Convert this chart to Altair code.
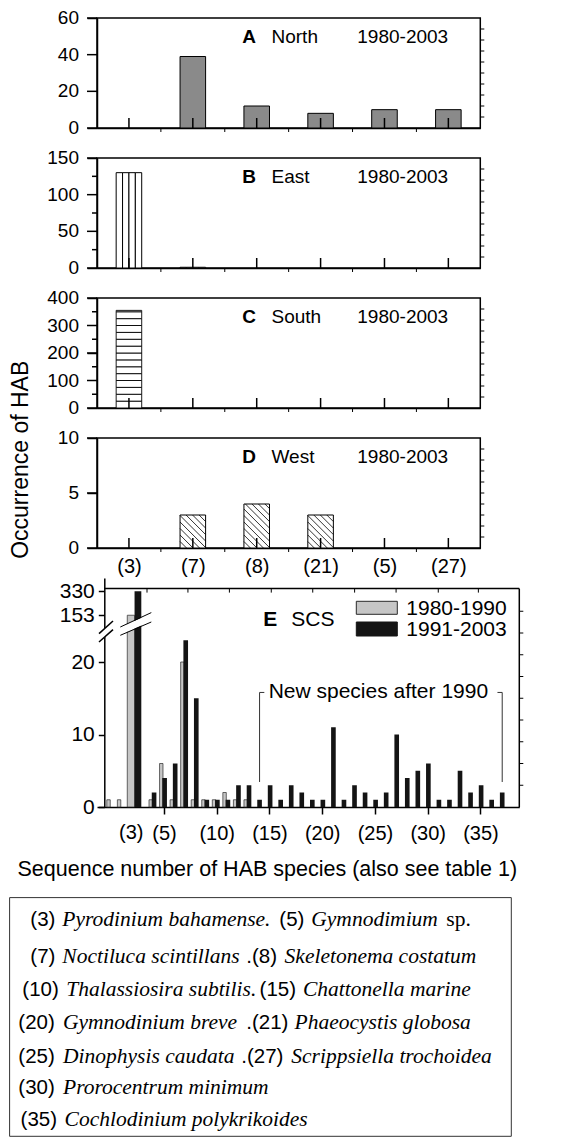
import json
import altair as alt
import pandas as pd

FONT = "Liberation Sans"
SERIF = "Liberation Serif"

# ---------------- data: regional panels A-D ----------------
categories = ["(3)", "(7)", "(8)", "(21)", "(5)", "(27)"]
north = [0, 39, 12, 8, 10, 10]
east = [130, 1, 0, 0, 0, 0]
south = [355, 0, 0, 0, 0, 0]
west = [0, 3, 4, 3, 0, 0]

# ---------------- data: panel E (SCS) ----------------
species_8090 = [0, 1, 3, 4, 5, 6, 7, 8, 9, 10, 11, 12, 13]
counts_8090 = [1, 1, 153, 1, 6, 1, 20, 1, 1, 1, 2, 1, 1]
species_9103 = list(range(3, 38))
counts_9103 = [330, 2, 4, 6, 23, 15, 1, 1, 1, 3, 3, 1, 3, 1, 3, 2, 1, 1, 11,
               1, 3, 2, 1, 2, 10, 4, 5, 6, 1, 1, 5, 2, 3, 1, 2]
e_tick_species = [5, 10, 15, 20, 25, 30, 35]
new_species_from = 14
new_species_to = 37

# ---------------- layout constants ----------------
W, H = 383.3, 110
PXX = W / 6.0
EW, EH = 422.3, 229
E_TOP = 10.6
E_YMAX = EH / 7.25
ONE = pd.DataFrame({"k": [0]})


def txt(x, y, s, size, font=FONT, style="normal", weight="normal",
        align="left", baseline="middle", angle=None):
    kw = dict(text=s, font=font, fontSize=size, fontStyle=style,
              fontWeight=weight, align=align, baseline=baseline, color="black")
    if angle is not None:
        kw["angle"] = angle
    return alt.Chart(ONE).mark_text(**kw).encode(x=alt.value(x), y=alt.value(y))


def seg(x1, y1, x2, y2, color="black", width=1.0):
    return alt.Chart(ONE).mark_rule(color=color, strokeWidth=width).encode(
        x=alt.value(x1), y=alt.value(y1), x2=alt.value(x2), y2=alt.value(y2))


def box(x1, y1, x2, y2, fill, stroke="black", sw=1.0):
    return alt.Chart(ONE).mark_rect(fill=fill, stroke=stroke, strokeWidth=sw).encode(
        x=alt.value(x1), x2=alt.value(x2), y=alt.value(y1), y2=alt.value(y2))


def region_panel(values, letter, name, kind, ymax, yticks, minor, right_step,
                 show_labels, extra=()):
    df = pd.DataFrame({"idx": list(range(len(categories))), "cat": categories, "value": values})
    xs = alt.Scale(domain=[-0.5, 5.5], nice=False, zero=False)
    ys = alt.Scale(domain=[0, ymax], nice=False, zero=False)
    if show_labels:
        xaxis = alt.Axis(values=list(range(6)), ticks=False, title=None, grid=False,
                         labelExpr=json.dumps(categories) + "[datum.value]",
                         labelFontSize=20, labelPadding=8, labelFont=FONT,
                         labelOverlap=False, labelFlush=False)
    else:
        xaxis = alt.Axis(values=list(range(6)), ticks=False, labels=False, title=None, grid=False)
    yaxis = alt.Axis(values=yticks, tickSize=10, labels=False, title=None, grid=False)

    layers = [alt.Chart(df).mark_point(opacity=0).encode(
        x=alt.X("idx:Q", scale=xs, axis=xaxis),
        y=alt.Y("value:Q", scale=ys, axis=yaxis))]

    # y tick labels
    ldf = pd.DataFrame({"v": yticks})
    layers.append(alt.Chart(ldf).mark_text(
        font=FONT, fontSize=19, align="right", baseline="middle", color="black").encode(
        x=alt.value(-18), y=alt.Y("v:Q", scale=ys), text="v:Q"))

    bars = df[df["value"] > 0]
    if kind == "solid":
        layers.append(alt.Chart(bars).transform_calculate(
            x0="datum.idx - 0.2", x1="datum.idx + 0.2").mark_rect(
            fill="#8a8a8a", stroke="black", strokeWidth=1).encode(
            x=alt.X("x0:Q", scale=xs), x2="x1:Q",
            y=alt.Y("value:Q", scale=ys), y2=alt.datum(0)))
    elif kind == "vstripes":
        rows = []
        for _, r in bars.iterrows():
            for j in range(4):
                rows.append({"x0": r.idx - 0.2 + 0.1 * j, "x1": r.idx - 0.1 + 0.1 * j, "value": r.value})
        layers.append(alt.Chart(pd.DataFrame(rows)).mark_rect(
            fill="white", stroke="black", strokeWidth=1).encode(
            x=alt.X("x0:Q", scale=xs), x2="x1:Q",
            y=alt.Y("value:Q", scale=ys), y2=alt.datum(0)))
    elif kind == "hstripes":
        rows = []
        for _, r in bars.iterrows():
            lo = 0
            while lo < r.value:
                rows.append({"x0": r.idx - 0.2, "x1": r.idx + 0.2, "y0": lo, "y1": min(lo + 25, r.value)})
                lo += 25
        layers.append(alt.Chart(pd.DataFrame(rows)).mark_rect(
            fill="white", stroke="black", strokeWidth=0.9).encode(
            x=alt.X("x0:Q", scale=xs), x2="x1:Q",
            y=alt.Y("y0:Q", scale=ys), y2="y1:Q"))
    elif kind == "hatch":
        pxy = H / ymax
        bw = 0.4 * PXX
        rows = []
        for _, r in bars.iterrows():
            hh = r.value * pxy
            b = 6.5
            while b < bw + hh:
                u1, u2 = max(0.0, b - hh), min(bw, b)
                rows.append({"hx0": r.idx - 0.2 + u1 / PXX, "hy0": (b - u1) / pxy,
                             "hx1": r.idx - 0.2 + u2 / PXX, "hy1": (b - u2) / pxy})
                b += 6.5
        layers.append(alt.Chart(bars).transform_calculate(
            x0="datum.idx - 0.2", x1="datum.idx + 0.2").mark_rect(
            fill="white").encode(
            x=alt.X("x0:Q", scale=xs), x2="x1:Q",
            y=alt.Y("value:Q", scale=ys), y2=alt.datum(0)))
        layers.append(alt.Chart(pd.DataFrame(rows)).mark_rule(
            color="black", strokeWidth=0.8).encode(
            x=alt.X("hx0:Q", scale=xs), x2="hx1:Q",
            y=alt.Y("hy0:Q", scale=ys), y2="hy1:Q"))
        layers.append(alt.Chart(bars).transform_calculate(
            x0="datum.idx - 0.2", x1="datum.idx + 0.2").mark_rect(
            fill="transparent", stroke="black", strokeWidth=1).encode(
            x=alt.X("x0:Q", scale=xs), x2="x1:Q",
            y=alt.Y("value:Q", scale=ys), y2=alt.datum(0)))

    # inward ticks at category centres
    layers.append(alt.Chart(df).mark_rule(color="black", strokeWidth=1.5).encode(
        x=alt.X("idx:Q", scale=xs), y=alt.value(H), y2=alt.value(H - 10)))
    # small ticks at category boundaries
    bdf = pd.DataFrame({"b": [i + 0.5 for i in range(5)]})
    layers.append(alt.Chart(bdf).mark_rule(color="black", strokeWidth=1).encode(
        x=alt.X("b:Q", scale=xs), y=alt.value(H), y2=alt.value(H + 4)))
    # left major ticks (explicit, so none are dropped)
    layers.append(alt.Chart(ldf).mark_rule(color="black", strokeWidth=1.5).encode(
        y=alt.Y("v:Q", scale=ys), x=alt.value(-10), x2=alt.value(0)))
    # right-side minor ticks
    rdf = pd.DataFrame({"v": list(range(right_step, ymax, right_step))})
    layers.append(alt.Chart(rdf).mark_rule(color="black", strokeWidth=1).encode(
        y=alt.Y("v:Q", scale=ys), x=alt.value(W), x2=alt.value(W + 4)))
    if minor:
        mdf = pd.DataFrame({"v": minor})
        layers.append(alt.Chart(mdf).mark_rule(color="black", strokeWidth=1.5).encode(
            y=alt.Y("v:Q", scale=ys), x=alt.value(-5), x2=alt.value(0)))

    layers.append(txt(145.3, 19, letter, 19, weight="bold"))
    layers.append(txt(174.5, 19, name, 19))
    layers.append(txt(260.3, 19, "1980-2003", 19))
    layers.extend(extra)
    return alt.layer(*layers).properties(width=W, height=H)


pA = region_panel(north, "A", "North", "solid", 60, [0, 20, 40, 60], [], 6, False)
pB = region_panel(east, "B", "East", "vstripes", 150, [0, 50, 100, 150], [25, 75, 125], 15, False)
pC = region_panel(south, "C", "South", "hstripes", 400, [0, 100, 200, 300, 400],
                  [50, 150, 250, 350], 40, False)
pD = region_panel(west, "D", "West", "hatch", 10, [0, 5, 10], [], 1, True,
                  extra=[txt(-75.7, 21.8, "Occurrence of HAB", 23, align="center", angle=270)])

# ---------------- panel E ----------------
e_gray = pd.DataFrame({"species": species_8090, "count": counts_8090})
e_black = pd.DataFrame({"species": species_9103, "count": counts_9103})
xsE = alt.Scale(domain=[-1.35, 38.68], nice=False, zero=False)
ysE = alt.Scale(domain=[0, E_YMAX], nice=False, zero=False)
disp_expr = ("datum.count <= 25 ? datum.count : (datum.count <= 153 ? "
             "25 + (datum.count - 25) / 128 * 1.45 : 26.45 + (datum.count - 153) / 177 * 3.3)")

e_layers = []
e_layers.append(alt.Chart(e_black).transform_calculate(disp=disp_expr).mark_point(opacity=0).encode(
    x=alt.X("species:Q", scale=xsE, axis=alt.Axis(
        values=e_tick_species, labelExpr="'(' + datum.label + ')'", tickSize=7,
        labelPadding=9, labelFontSize=20, title=None, grid=False, labelFont=FONT,
        labelOverlap=False, labelFlush=False)),
    y=alt.Y("disp:Q", scale=ysE, axis=alt.Axis(
        values=[0, 10, 20, 26.45, 29.75],
        labelExpr="datum.value > 29 ? '330' : (datum.value > 26 ? '153' : datum.label)",
        tickSize=6, labelPadding=4, labelFontSize=21, offset=-7.3, title=None,
        grid=False, labelFont=FONT, labelOverlap=False, labelFlush=False))))
e_layers.append(alt.Chart(e_gray).transform_calculate(
    disp=disp_expr,
    x0="datum.species == 3 ? datum.species - 1.48 : datum.species - 0.42",
    x1="datum.species == 3 ? datum.species - 0.79 : datum.species - 0.095").mark_rect(
    fill="#c6c6c6", stroke="#2a2a2a", strokeWidth=0.7).encode(
    x=alt.X("x0:Q", scale=xsE), x2="x1:Q",
    y=alt.Y("disp:Q", scale=ysE), y2=alt.datum(0)))
e_layers.append(alt.Chart(e_black).transform_calculate(
    disp=disp_expr,
    x0="datum.species == 3 ? datum.species - 0.79 : datum.species - 0.16",
    x1="datum.species == 3 ? datum.species - 0.15 : datum.species + 0.28").mark_rect(
    fill="#141414").encode(
    x=alt.X("x0:Q", scale=xsE), x2="x1:Q",
    y=alt.Y("disp:Q", scale=ysE), y2=alt.datum(0)))

# frame (top, right) and minor ticks
e_layers.append(seg(7.3, E_TOP, EW, E_TOP, width=1.5))
e_layers.append(seg(EW, E_TOP, EW, EH, width=1.5))
rdfE = pd.DataFrame({"v": list(range(3, 30, 3))})
e_layers.append(alt.Chart(rdfE).mark_rule(color="black", strokeWidth=1).encode(
    y=alt.Y("v:Q", scale=ysE), x=alt.value(EW), x2=alt.value(EW + 4)))
tdfE = pd.DataFrame({"t": [3.39, 7.27, 11.2, 15.17, 19.1, 23.07, 27.0, 31.0, 34.8]})
e_layers.append(alt.Chart(tdfE).mark_rule(color="black", strokeWidth=1).encode(
    x=alt.X("t:Q", scale=xsE), y=alt.value(E_TOP), y2=alt.value(E_TOP + 4)))

# axis break marks
e_layers.append(seg(23.3, 53.1, 54.3, 39.3, color="white", width=7))
e_layers.append(seg(23.3, 49.0, 54.3, 34.6, width=1))
e_layers.append(seg(23.3, 57.3, 54.3, 44.0, width=1))
e_layers.append(seg(2, 59.8, 16, 47.3, color="white", width=7))
e_layers.append(seg(2, 55.6, 16, 43.0, width=1.5))
e_layers.append(seg(2, 64.0, 16, 51.6, width=1.5))

# "New species after 1990" bracket
bracket = pd.DataFrame({
    "x0": [new_species_from + 0.06, new_species_from + 0.06, new_species_to + 0.06 - 0.45, new_species_to + 0.06],
    "x1": [new_species_from + 0.06, new_species_from + 0.06 + 0.45, new_species_to + 0.06, new_species_to + 0.06],
    "y0": [3.45, 15.8, 15.8, 15.8],
    "y1": [15.8, 15.8, 15.8, 3.45]})
e_layers.append(alt.Chart(bracket).mark_rule(color="#333333", strokeWidth=1).encode(
    x=alt.X("x0:Q", scale=xsE), x2="x1:Q",
    y=alt.Y("y0:Q", scale=ysE), y2="y1:Q"))
e_layers.append(alt.Chart(pd.DataFrame({"x": [new_species_from + 0.92], "y": [15.8],
                                        "t": ["New species after 1990"]})).mark_text(
    font=FONT, fontSize=21, align="left", baseline="middle", color="black").encode(
    x=alt.X("x:Q", scale=xsE), y=alt.Y("y:Q", scale=ysE), text="t:N"))

# panel label and legend
e_layers.append(txt(166.3, 42.3, "E", 21, weight="bold"))
e_layers.append(txt(194.3, 42.3, "SCS", 21))
e_layers.append(box(259.3, 23.3, 300.3, 36.3, "#c6c6c6", stroke="#2a2a2a", sw=1))
e_layers.append(box(259.3, 44.0, 300.3, 58.0, "#141414", stroke="#141414", sw=1))
e_layers.append(txt(309.3, 31.3, "1980-1990", 21))
e_layers.append(txt(309.3, 52.3, "1991-2003", 21))

# extra (3) label and x title
e_layers.append(txt(34.3, EH + 26.3, "(3)", 20, align="center"))
e_layers.append(txt(170.3, 292.3, "Sequence number of  HAB species (also see table 1)", 21.5, align="center"))

# species key box
e_layers.append(box(-87.4, 319.6, 414.3, 558.3, "transparent", stroke="#333333", sw=1))
species_key = [
    (342.3, [(29, "(3)", "n"), (61, "Pyrodinium bahamense.", "i"), (278, "(5)", "n"),
             (310, "Gymnodimium", "i"), (445, "sp.", "r")]),
    (379.0, [(29, "(7)", "n"), (61, "Noctiluca scintillans", "i"), (245, ".(8)", "n"),
             (283.3, "Skeletonema costatum", "i")]),
    (412.3, [(21, "(10)", "n"), (65, "Thalassiosira subtilis.", "i"), (258.3, "(15)", "n"),
             (301.7, "Chattonella marine", "i")]),
    (445.3, [(17, "(20)", "n"), (61.7, "Gymnodinium breve", "i"), (245, ".(21)", "n"),
             (293.3, "Phaeocystis globosa", "i")]),
    (479.0, [(17, "(25)", "n"), (61.7, "Dinophysis caudata", "i"), (240, ".(27)", "n"),
             (290, "Scrippsiella trochoidea", "i")]),
    (510.3, [(17, "(30)", "n"), (61.7, "Prorocentrum minimum", "i")]),
    (542.3, [(19.3, "(35)", "n"), (63.3, "Cochlodinium polykrikoides", "i")]),
]
for yy, parts in species_key:
    for xx, s, kind in parts:
        if kind == "n":
            e_layers.append(txt(xx - 95.7, yy, s, 20.5))
        elif kind == "i":
            e_layers.append(txt(xx - 95.7, yy, s, 21.5, font=SERIF, style="italic"))
        else:
            e_layers.append(txt(xx - 95.7, yy, s, 21.5, font=SERIF))

pE = alt.layer(*e_layers).properties(width=EW, height=EH,
                                     view=alt.ViewBackground(stroke="transparent"))

chart = alt.vconcat(pA, pB, pC, pD, pE, spacing=30, bounds="flush").properties(
    padding={"left": 0, "top": 0, "right": 5, "bottom": 0}
).configure_view(stroke="black", strokeWidth=1.5).configure_axis(
    domainColor="black", tickColor="black", labelColor="black",
    domainWidth=1.5, tickWidth=1.5, grid=False, labelFont=FONT,
    labelOverlap=False, labelFlush=False)

chart.save("out.html", embed_options={"renderer": "svg", "actions": False})
